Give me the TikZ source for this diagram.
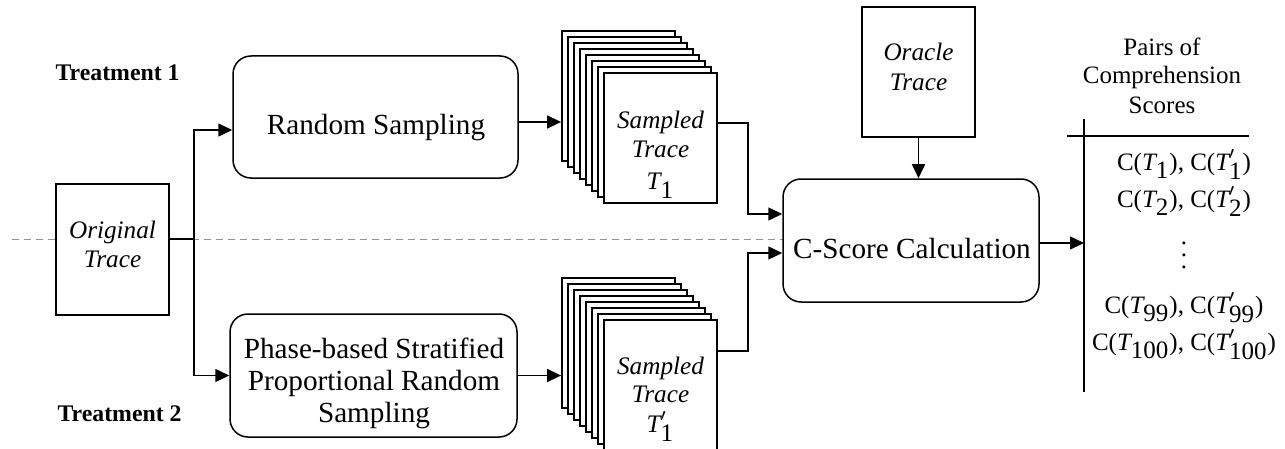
\documentclass[tikz,border=0pt]{standalone}
\usepackage{fontspec}
\setmainfont{Liberation Serif}
\usetikzlibrary{arrows.meta,calc}
\newcommand\Tsub[1]{\ensuremath{\textit{T}_{\textrm{#1}}}}
\newcommand\Tpr[1]{\ensuremath{\textit{T}'_{\textrm{#1}}}}
\newcommand\myvdots{\vbox{\baselineskip6pt\lineskiplimit0pt\hbox{.}\hbox{.}\hbox{.}}}
\begin{document}
\begin{tikzpicture}[x=0.5pt,y=-0.5pt,
  conn/.style={line width=0.75pt},
  arr/.style={conn,-{Triangle[length=7pt,width=6.5pt]}},
  procbox/.style={draw,line width=0.75pt,rounded corners=9pt,fill=white,inner sep=0pt},
  tracebox/.style={draw,line width=0.7pt,fill=white,inner sep=0pt,minimum width=56.5pt,minimum height=65pt},
  stackbox/.style={draw,line width=0.9pt,fill=white,inner sep=0pt,minimum width=56.5pt,minimum height=65pt},
  bigtxt/.style={anchor=base,inner sep=0pt,font=\fontsize{14.6}{16}\selectfont},
  ittxt/.style={anchor=base,inner sep=0pt,font=\fontsize{12.6}{14.5}\selectfont\itshape},
  hdrtxt/.style={anchor=base,inner sep=0pt,font=\fontsize{12.5}{14}\selectfont},
  boldtxt/.style={anchor=base east,inner sep=0pt,font=\fontsize{11.9}{14}\selectfont\bfseries},
  sepline/.style={draw=black!42,line width=0.5pt,dash pattern=on 3.5pt off 2.5pt}]
\useasboundingbox (0,0) rectangle (1285,449);

% dashed separator
\coordinate (dl) at (12,239);
\coordinate (dr) at (783,239);
\draw[sepline] (dl) -- (dr);

% labels
\node[boldtxt] (t1) at (180,81) {Treatment 1};
\node[boldtxt] (t2) at (182,421) {Treatment 2};

% original trace
\node[tracebox,minimum height=65.5pt] (orig) at (112.5,249.5) {};
\node[ittxt] (orig1) at (112.5,238) {Original};
\node[ittxt] (orig2) at (112.5,267) {Trace};

% processes
\node[procbox,minimum width=142.5pt,minimum height=61pt] (rs) at (375.5,117) {};
\node[bigtxt] (rst) at (376,134) {Random Sampling};
\node[procbox,minimum width=143.5pt,minimum height=61.5pt] (ph) at (373.5,375.5) {};
\node[bigtxt] (ph1) at (374,358) {Phase-based Stratified};
\node[bigtxt] (ph2) at (374,390) {Proportional Random};
\node[bigtxt] (ph3) at (374,422) {Sampling};

% stacks
\foreach \i in {0,...,7}{
  \node[stackbox] (sa\i) at (618.5+6*\i,96+6*\i) {};
  \node[stackbox] (sb\i) at (618.5+6*\i,343+6*\i) {};
}
\node[ittxt] (sat1) at (660.5,128) {Sampled};
\node[ittxt] (sat2) at (660.5,157) {Trace};
\node[ittxt,font=\fontsize{12.6}{14.5}\selectfont] (sat3) at (660.5,190) {\Tsub{1}};
\node[ittxt] (sbt1) at (660.5,374) {Sampled};
\node[ittxt] (sbt2) at (660.5,402) {Trace};
\node[ittxt,font=\fontsize{12.6}{14.5}\selectfont] (sbt3) at (660.5,432) {\Tpr{1}};

% oracle and C-score
\node[tracebox] (orc) at (918.5,72) {};
\node[ittxt] (orc1) at (918.5,61) {Oracle};
\node[ittxt] (orc2) at (918.5,91) {Trace};
\node[procbox,minimum width=128pt,minimum height=61.5pt] (cs) at (911,240.5) {};
\node[bigtxt] (cst) at (912,258) {C-Score Calculation};

% result table
\node[hdrtxt] (h1) at (1162,56) {Pairs of};
\node[hdrtxt] (h2) at (1162,84) {Comprehension};
\node[hdrtxt] (h3) at (1162,113) {Scores};
\coordinate (vtop) at (1084,119);
\coordinate (vbot) at (1084,392);
\coordinate (hl) at (1067,136);
\coordinate (hr) at (1249,136);
\draw[conn] (vtop) -- (vbot);
\draw[conn] (hl) -- (hr);
\node[hdrtxt] (c1) at (1184,170) {C(\Tsub{1}), C(\Tpr{1})};
\node[hdrtxt] (c2) at (1184,207) {C(\Tsub{2}), C(\Tpr{2})};
\node[inner sep=0pt,font=\fontsize{12.5}{14}\selectfont] (cd) at (1184,255) {\myvdots};
\node[hdrtxt] (c3) at (1184,313) {C(\Tsub{99}), C(\Tpr{99})};
\node[hdrtxt] (c4) at (1184,350) {C(\Tsub{100}), C(\Tpr{100})};

% connectors
\coordinate (split) at (194,239);
\draw[conn] (orig.east |- split) -- (split);
\draw[arr] (split) |- (rs.west |- 0,130);
\draw[arr] (split) |- (ph.west);
\draw[arr] (rs.east |- 0,122) -- (sa0.west |- 0,122);
\draw[arr] (ph.east) -- (sb0.west |- ph.east);
\draw[arr] (sa7.east |- 0,123) -| (748,214) -- (cs.west |- 0,214);
\draw[arr] (sb7.east |- 0,351) -| (748,253) -- (cs.west |- 0,253);
\draw[arr] (orc.south) -- (orc.south |- cs.north);
\draw[arr] (cs.east |- 0,243) -- (vtop |- 0,243);
\end{tikzpicture}
\end{document}
